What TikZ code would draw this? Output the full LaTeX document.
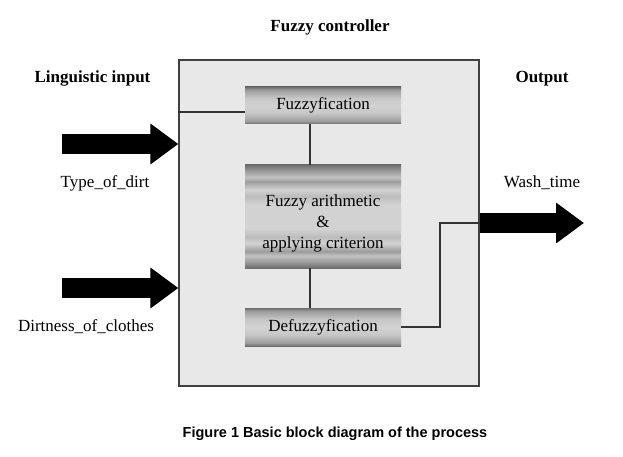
\documentclass[tikz,border=0pt]{standalone}
\usepackage{fontspec}
\setmainfont{Liberation Serif}
\newfontfamily\capfont{Liberation Sans}
\usetikzlibrary{arrows.meta,calc}
\definecolor{metaldark}{HTML}{6E6E6E}
\definecolor{metalmid}{HTML}{9C9C9C}
\definecolor{metallight}{HTML}{D2D2D2}
\pgfdeclareverticalshading{metal}{100bp}{color(0bp)=(metaldark); color(25bp)=(metaldark); color(29bp)=(metalmid); color(40bp)=(metallight!80!metalmid); color(50bp)=(metallight); color(60bp)=(metallight!80!metalmid); color(71bp)=(metalmid); color(75bp)=(metaldark); color(100bp)=(metaldark)}
\pgfdeclareverticalshading{metalstripes}{100bp}{color(0bp)=(metaldark); color(25bp)=(metaldark); color(28bp)=(metalmid); color(31bp)=(metallight!70!metalmid); color(33bp)=(metalmid); color(37bp)=(metallight); color(40bp)=(metallight!60!metalmid); color(44bp)=(metallight); color(50bp)=(metallight); color(56bp)=(metallight); color(60bp)=(metallight!60!metalmid); color(63bp)=(metallight); color(67bp)=(metalmid); color(69bp)=(metallight!70!metalmid); color(72bp)=(metalmid); color(75bp)=(metaldark); color(100bp)=(metaldark)}
\tikzstyle{ctrlbox}=[draw=black!75, fill=black!9, line width=1.2pt, minimum width=300pt, minimum height=326pt, inner sep=0pt]
\tikzstyle{block}=[minimum width=156pt, inner sep=0pt, align=center, font=\fontsize{17}{21}\selectfont]
\tikzstyle{link}=[draw=black!80, line width=1.1pt]
\tikzstyle{fat}=[line width=20pt, -{Triangle[length=28pt, width=39pt]}]
\tikzstyle{lbl}=[inner sep=0pt, font=\fontsize{17}{21}\selectfont]
\tikzstyle{head}=[inner sep=0pt, anchor=base, font=\bfseries\fontsize{17}{20}\selectfont]

\begin{document}
\begin{tikzpicture}[x=1pt,y=-1pt]
\useasboundingbox[fill=white] (0,0) rectangle (623,457);
\node[ctrlbox] (ctrl) at (329,223) {};
\node[block, shading=metal, minimum height=37pt] (fuzz) at (323,105.5) {Fuzzyfication};
\node[block, shading=metalstripes, minimum height=103pt] (arith) at (323,216.5) {\raisebox{-7pt}[\height][\depth]{\begin{tabular}{@{}c@{}}Fuzzy arithmetic\\\&\\applying criterion\end{tabular}}};
\node[block, shading=metal, minimum height=38pt] (defuzz) at (323,327) {Defuzzyfication};
\coordinate (fz) at (0,112);
\coordinate (vx) at (310,0);
\coordinate (bend) at (440,223);
\coordinate (inA) at (62,144);
\coordinate (inB) at (62,288);
\coordinate (outT) at (584,223);
\draw[link] (ctrl.west |- fz) -- (fuzz.west |- fz);
\draw[link] (vx |- fuzz.south) -- (vx |- arith.north);
\draw[link] (vx |- arith.south) -- (vx |- defuzz.north);
\draw[link] (defuzz.east) -| (bend) -- (ctrl.east);
\draw[fat] (inA) -- (ctrl.west |- inA);
\draw[fat] (inB) -- (ctrl.west |- inB);
\draw[fat] (ctrl.east) -- (outT);
\node[head] (title) at (330,32) {Fuzzy controller};
\node[head] (lingin) at (92.5,83) {Linguistic input};
\node[head] (outlbl) at (542,83) {Output};
\node[lbl] (tdirt) at (105,183) {Type\_of\_dirt};
\node[lbl] (dclothes) at (86,327) {Dirtness\_of\_clothes};
\node[lbl] (wtime) at (542,183) {Wash\_time};
\node[inner sep=0pt, font=\capfont\bfseries\fontsize{14.5}{17}\selectfont] (caption) at (335,434) {Figure 1 Basic block diagram of the process};
\end{tikzpicture}
\end{document}
